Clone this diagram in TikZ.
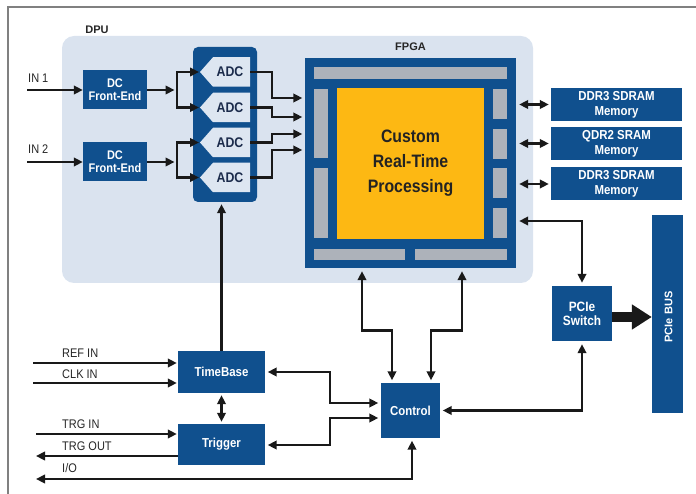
\documentclass[tikz,border=0pt]{standalone}
\usepackage{fontspec}
\setmainfont{Liberation Sans}
\newfontfamily\cnd[FakeStretch=0.88]{Liberation Sans}
\usetikzlibrary{arrows.meta,calc}

\definecolor{navy}{HTML}{10508E}
\definecolor{dpubg}{HTML}{DAE3EF}
\definecolor{cellbg}{HTML}{DDE6F1}
\definecolor{barc}{HTML}{ADB2BA}
\definecolor{gold}{HTML}{FDB813}
\definecolor{ink}{HTML}{1B2B4B}
\definecolor{coretext}{HTML}{232323}
\definecolor{framec}{HTML}{808080}

\begin{document}
\begin{tikzpicture}[x=1pt,y=-1pt,
  ln/.style={line width=2.6pt, black!90, line join=miter},
  arr/.style={ln, -{Triangle[length=9pt,width=8.5pt]}},
  dbl/.style={ln, {Triangle[length=9pt,width=8.5pt]}-{Triangle[length=9pt,width=8.5pt]}},
  fat/.style={line width=9pt, black!90, -{Triangle[length=20pt,width=24pt]}},
  blk/.style={fill=navy, draw=none, text=white, align=center, inner sep=0pt,
    font=\cnd\bfseries\fontsize{13}{14}\selectfont},
  hdr/.style={font=\bfseries\fontsize{11}{12}\selectfont, text=black!85, inner sep=0pt},
  sig/.style={font=\cnd\fontsize{12.5}{13}\selectfont, text=black!85, inner sep=0pt, anchor=west},
  cell/.style={fill=cellbg, draw=none},
  adctxt/.style={font=\cnd\bfseries\fontsize{14}{15}\selectfont, text=ink, inner sep=0pt}
]
\useasboundingbox (0,0) rectangle (696,494);

% page frame
\draw[framec, line width=1.2pt] (8,494) -- (8,7) -- (696,7);

% DPU area
\node[fill=dpubg, rounded corners=12pt, minimum width=471pt, minimum height=247pt, inner sep=0pt] (dpu) at (297.5,159.5) {};
\node[hdr] (dpulbl) at (97,30) {DPU};

% front ends
\node[blk, font=\cnd\bfseries\fontsize{12.5}{13}\selectfont, minimum width=64pt, minimum height=39pt] (fe1) at (115,90) {DC\\Front-End};
\node[blk, font=\cnd\bfseries\fontsize{12.5}{13}\selectfont, minimum width=64pt, minimum height=39pt] (fe2) at (115,162) {DC\\Front-End};

% ADC block
\node[fill=navy, rounded corners=5pt, minimum width=64pt, minimum height=155pt, inner sep=0pt] (adcbox) at (225,124.5) {};
\foreach \i/\y in {1/72,2/107.5,3/142.5,4/177.5}{
  \fill[cell] (213,\y-14.75) -- (250,\y-14.75) -- (250,\y+14.75) -- (213,\y+14.75) -- (200,\y) -- cycle;
  \node[adctxt] (adc\i) at (230,\y) {ADC};
  \coordinate (adc\i w) at (200,\y);
  \coordinate (adc\i e) at (250,\y);
}

% FPGA
\node[fill=navy, minimum width=211pt, minimum height=210pt, inner sep=0pt] (fpga) at (410.5,163) {};
\node[hdr] (fpgalbl) at (410.5,47) {FPGA};
\fill[barc] (314,67) rectangle (507,79);
\fill[barc] (314,89) rectangle (328,158);
\fill[barc] (314,168) rectangle (328,238);
\foreach \a/\b in {89/119,129/159,168/198,208/238}
  \fill[barc] (493,\a) rectangle (507,\b);
\fill[barc] (314,249) rectangle (405,260);
\fill[barc] (415,249) rectangle (507,260);
\node[fill=gold, minimum width=147pt, minimum height=151pt, inner sep=0pt, align=center,
  text=coretext, font=\cnd\bfseries\fontsize{18}{25}\selectfont] (core) at (410.5,163.5) {Custom\\Real-Time\\Processing};

% memories
\node[blk, minimum width=131pt, minimum height=33pt, font=\cnd\bfseries\fontsize{13}{15}\selectfont] (m1) at (616.5,104.5) {DDR3 SDRAM\\Memory};
\node[blk, minimum width=131pt, minimum height=33pt, font=\cnd\bfseries\fontsize{13}{15}\selectfont] (m2) at (616.5,143.5) {QDR2 SRAM\\Memory};
\node[blk, minimum width=131pt, minimum height=33pt, font=\cnd\bfseries\fontsize{13}{15}\selectfont] (m3) at (616.5,184) {DDR3 SDRAM\\Memory};

% PCIe
\node[blk, minimum width=60pt, minimum height=55pt, font=\cnd\bfseries\fontsize{13.5}{14}\selectfont] (sw) at (582,313.5) {PCIe\\Switch};
\node[fill=navy, minimum width=31pt, minimum height=198pt, inner sep=0pt] (bus) at (667.5,314) {};
\node[rotate=90, text=white, inner sep=0pt, font=\bfseries\fontsize{11}{12}\selectfont] (buslbl) at (668.5,317) {PCIe BUS};

% control, timebase, trigger
\node[blk, minimum width=59pt, minimum height=55pt] (ctl) at (410.5,410.5) {Control};
\node[blk, minimum width=87pt, minimum height=42pt] (tb) at (221.5,372) {TimeBase};
\node[blk, minimum width=87pt, minimum height=41pt] (trg) at (221.5,444.5) {Trigger};

% signal names
\node[sig] (lin1) at (28,78) {IN 1};
\node[sig] (lin2) at (28,149) {IN 2};
\node[sig] (lref) at (62,353) {REF IN};
\node[sig] (lclk) at (62,374) {CLK IN};
\node[sig] (ltin) at (62,424) {TRG IN};
\node[sig] (ltout) at (62,446) {TRG OUT};
\node[sig] (lio) at (62,468) {I/O};

% free ends and junctions
\coordinate (in1) at (27,90);
\coordinate (in2) at (27,162);
\coordinate (sp1) at (177,90);
\coordinate (sp2) at (177,162);
\coordinate (refin) at (33,363);
\coordinate (clkin) at (33,383);
\coordinate (trgin) at (36,434);
\coordinate (trgout) at (36,456);
\coordinate (io) at (36,479);
\coordinate (jx) at (330,0);

% inputs into the front ends and ADCs
\draw[arr] (in1) -- (fe1.west);
\draw[arr] (in2) -- (fe2.west);
\draw[arr, shorten >=2.5pt] (fe1.east) -- (sp1);
\draw[arr, shorten >=2.5pt] (fe2.east) -- (sp2);
\draw[arr, shorten >=1pt] (sp1) |- (adc1w);
\draw[arr, shorten >=1pt] (sp1) |- (adc2w);
\draw[arr, shorten >=1pt] (sp2) |- (adc3w);
\draw[arr, shorten >=1pt] (sp2) |- (adc4w);

% ADC outputs into the FPGA
\draw[arr, shorten >=2.5pt] (adc1e) -- ++(22,0) |- (fpga.west |- 0,98);
\draw[arr, shorten >=2.5pt] (adc2e) -- ++(22,0) |- (fpga.west |- 0,117);
\draw[arr, shorten >=2.5pt] (adc3e) -- ++(22,0) |- (fpga.west |- 0,134);
\draw[arr, shorten >=2.5pt] (adc4e) -- ++(22,0) |- (fpga.west |- 0,150);

% memory links
\draw[dbl, shorten <=3pt, shorten >=2pt] (fpga.east |- m1) -- (m1.west);
\draw[dbl, shorten <=3pt, shorten >=2pt] (fpga.east |- m2) -- (m2.west);
\draw[dbl, shorten <=3pt, shorten >=2pt] (fpga.east |- m3) -- (m3.west);

% FPGA to PCIe switch and bus
\draw[dbl, shorten <=3pt, shorten >=3pt] (fpga.east |- 0,221) -| (sw.north);
\draw[fat] (sw.east |- 0,317) -- (bus.west |- 0,317);

% FPGA to control
\draw[dbl, shorten <=3pt, shorten >=2.5pt] ([xshift=-48.5pt]fpga.south) -- ++(0,62) -| ([xshift=-18.5pt]ctl.north);
\draw[dbl, shorten <=3pt, shorten >=2.5pt] ([xshift=51.5pt]fpga.south) -- ++(0,62) -| ([xshift=20.5pt]ctl.north);

% control to switch
\draw[dbl, shorten <=2.5pt, shorten >=3pt] (ctl.east) -| (sw.south);

% timebase and trigger
\draw[arr, shorten >=2pt] (tb.north) -- (tb.north |- adcbox.south);
\draw[dbl, shorten <=2pt, shorten >=2pt] (tb.south) -- (trg.north);
\draw[arr, shorten >=1pt] (refin) -- (refin -| tb.west);
\draw[arr, shorten >=1pt] (clkin) -- (clkin -| tb.west);
\draw[arr, shorten >=1pt] (trgin) -- (trgin -| trg.west);
\draw[arr] (trgout -| trg.west) -- (trgout);
\draw[dbl, shorten >=2.5pt] (io) -| ([xshift=1.5pt]ctl.south);
\draw[dbl, shorten <=2.5pt, shorten >=2.5pt] (tb.east) -- (tb.east -| jx) |- (ctl.west |- 0,403);
\draw[dbl, shorten <=2.5pt, shorten >=2.5pt] (trg.east |- 0,445) -- (jx |- 0,445) |- (ctl.west |- 0,418);
\end{tikzpicture}
\end{document}
